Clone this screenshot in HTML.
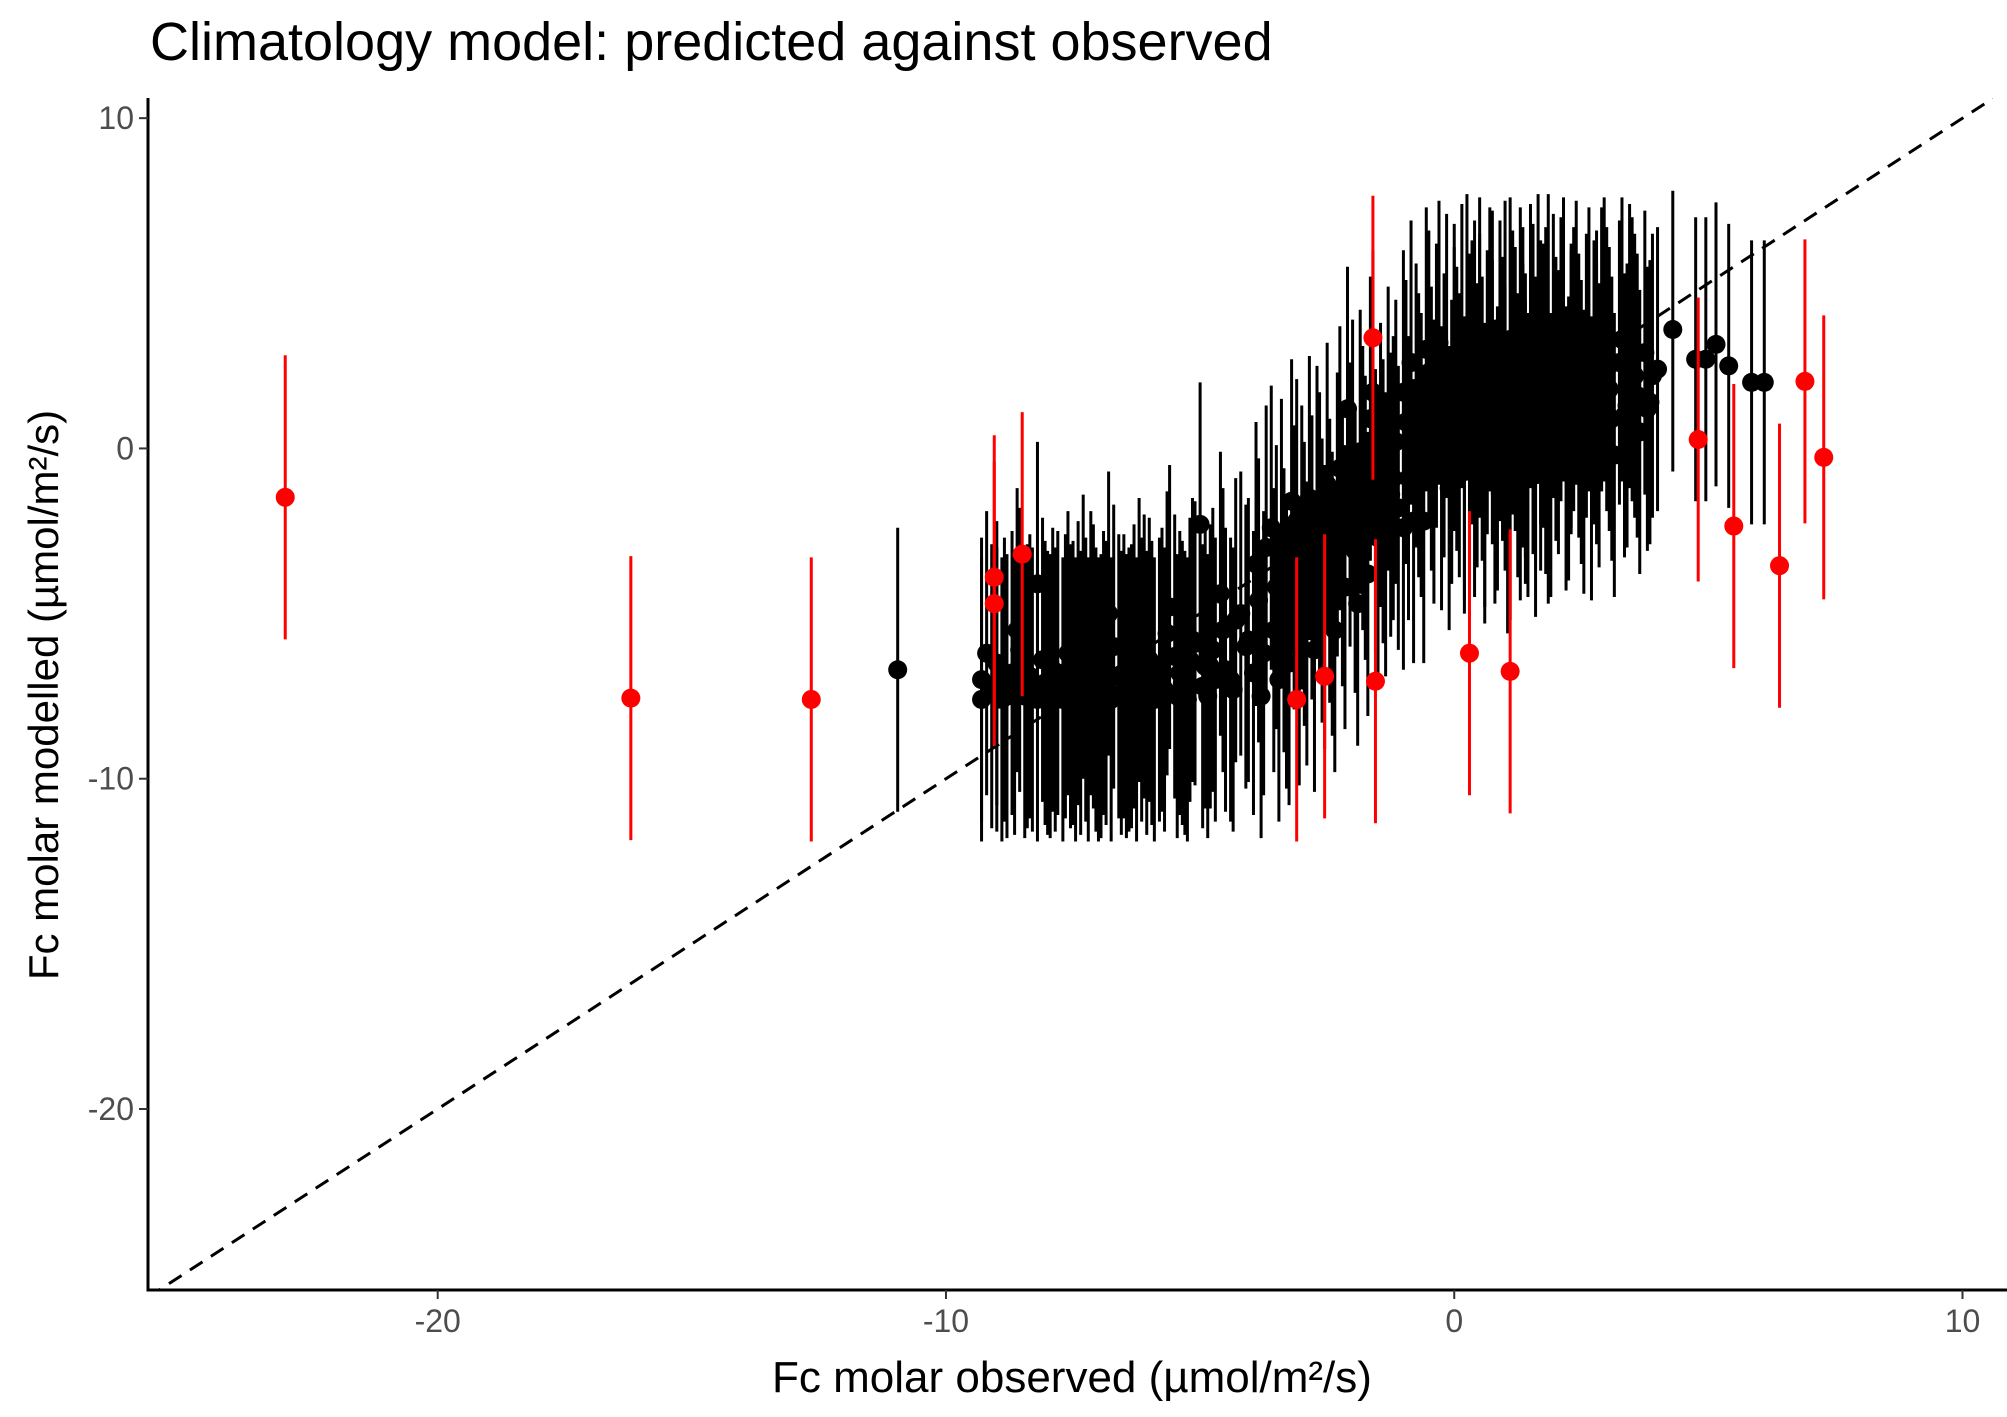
<!DOCTYPE html>
<html><head><meta charset="utf-8"><style>
html,body{margin:0;padding:0;background:#fff;}
svg{display:block;font-family:"Liberation Sans",Arial,sans-serif;}
</style></head><body>
<svg id="chart" width="2007" height="1417" viewBox="0 0 2007 1417" xmlns="http://www.w3.org/2000/svg">
<text x="150" y="60" font-size="54" fill="#000">Climatology model: predicted against observed</text>
<g id="plot"></g>
<text x="1072" y="1392" font-size="44" text-anchor="middle" fill="#000">Fc molar observed (µmol/m²/s)</text>
<text transform="translate(58,695) rotate(-90)" font-size="42" text-anchor="middle" fill="#000">Fc molar modelled (µmol/m²/s)</text>
</svg>
<script>
const blackX = [-10.95,-9.3,-9.3,-9.2,-9.0,-8.8,-8.6,-8.4,-8.2,-8.0,-7.8,-7.6,-7.5,-7.3,-7.1,-7.0,-6.8,-6.6,-6.4,-6.2,-6.0,-5.8,-5.6,-5.5,-5.3,-5.1,-5.0,-4.8,-4.6,-4.4,-4.3,-4.1,-3.9,-3.8,-3.6,-3.5,-3.3,-3.2,-3.0,-2.9,-2.7,-2.6,-2.4,-2.3,-2.1,-2.0,-1.9,-1.8,-1.6,-1.5,-1.4,-1.2,-1.0,-1.0,-0.8,-0.7,-0.6,-0.5,-0.4,-0.3,-0.2,-0.1,0.0,0.1,0.2,0.25,0.3,0.4,0.5,0.55,0.6,0.7,0.75,0.8,0.9,1.0,1.05,1.1,1.2,1.3,1.35,1.4,1.5,1.55,1.6,1.7,1.8,1.85,1.9,2.0,2.1,2.2,2.3,2.4,2.5,2.6,2.7,2.8,2.9,3.0,3.1,3.3,3.4,3.5,3.6,3.8,3.9,4.0,4.3,4.75,4.95,5.15,5.4,5.85,6.1,
-9.1,-9.0,-8.9,-8.85,-8.7,-8.65,-8.55,-8.45,-8.35,-8.3,-8.2,-8.1,-8.05,-7.95,-7.9,-7.85,-7.7,-7.65,-7.55,-7.45,-7.4,-7.35,-7.25,-7.2,-7.15,-7.05,-6.95,-6.9,-6.85,-6.75,-6.7,-6.55,-6.5,-6.45,-6.35,-6.3,-6.25,-6.15,-6.1,-6.05,-5.95,-5.9,-5.75,-5.7,-5.65,-5.45,-5.4,-5.35,-5.25,-5.2,-5.15,-4.95,-4.9,-4.85,-4.75,-4.7,-4.55,-4.5,-4.35,-4.2,
-4.05,-3.95,-3.85,-3.75,-3.7,-3.55,-3.45,-3.4,-3.35,-3.25,-3.15,-3.1,-3.05,-2.95,-2.85,-2.8,-2.75,-2.65,-2.55,-2.5,-2.45,-2.35,-2.25,-2.2,-2.15,-2.05,-1.95,-1.85,-1.75,-1.7,-1.65,-1.55,-1.45,-1.35,-1.3,-1.25,-1.15,-1.1,
-0.95,-0.9,-0.85,-0.75,-0.65,-0.55,-0.45,-0.35,-0.25,-0.15,-0.05,0.05,0.15,0.2,0.35,0.45,0.5,0.6,0.65,0.75,0.85,0.95,1.0,1.1,1.15,1.25,1.3,1.4,1.45,1.55,1.65,1.7,1.75,1.85,1.95,2.05,2.15,2.25,2.35,2.45,2.55,2.65,2.75,2.85,2.95,3.05,3.15,3.25,3.35,3.45,3.55,3.65,3.75,3.85,0.0,0.4,0.9,1.35,1.8,2.3,2.8,0.3,1.6];
const blackY = [-6.7,-7.0,-7.6,-6.2,-7.3,-7.5,-5.5,-7.2,-4.1,-7.4,-6.8,-6.2,-7.1,-5.7,-6.6,-7.6,-5.0,-6.9,-7.3,-5.8,-6.4,-7.0,-4.8,-6.3,-7.4,-5.9,-2.3,-6.6,-4.4,-7.0,-5.2,-6.0,-3.5,-7.5,-2.4,-4.2,-6.0,-1.6,-3.0,-5.3,-1.8,-4.0,-4.4,-2.0,1.2,-0.4,-4.7,-1.2,1.7,-2.7,-1.6,-0.9,-2.4,1.7,-2.2,0.4,-2.2,2.3,-0.4,3.2,1.0,-1.2,2.5,0.4,-0.7,3.4,1.6,-0.2,2.2,0.9,-1.0,3.0,1.4,-0.4,2.6,0.6,-1.3,3.3,1.8,-0.3,2.4,0.2,3.1,1.1,-0.8,2.0,0.5,3.4,-0.2,1.5,2.7,0.0,1.9,3.2,0.8,2.2,-0.3,1.4,3.0,2.4,0.9,3.3,1.3,2.7,1.6,1.2,2.2,2.4,3.6,2.7,2.7,3.15,2.5,2.0,2.0,
-7.2,-6.5,-7.6,-7.0,-6.8,-7.4,-6.1,-7.5,-6.9,-7.3,-7.6,-6.4,-7.1,-7.5,-6.7,-7.3,-7.6,-6.9,-7.2,-7.6,-6.5,-7.4,-7.0,-7.6,-6.2,-7.3,-7.5,-6.8,-7.1,-7.6,-6.0,-7.4,-6.9,-7.5,-7.2,-6.6,-7.6,-7.0,-6.3,-7.4,-7.1,-7.6,-6.7,-7.3,-5.6,-7.5,-6.8,-7.1,-7.6,-6.4,-5.8,-7.2,-6.6,-7.5,-6.1,-7.0,-5.5,-6.7,-7.3,-5.0,
-5.8,-6.8,-4.6,-6.2,-3.0,-5.5,-7.0,-2.8,-4.9,-6.5,-3.6,-2.2,-5.9,-4.1,-1.5,-3.3,-6.1,-2.6,-4.8,-1.1,-3.4,-5.5,-0.6,-2.9,-4.2,-1.7,-3.1,-0.1,-2.1,-3.8,0.9,-1.9,-0.5,-2.6,0.6,-1.4,0.2,-1.8,
0.8,-0.9,2.6,1.3,-0.2,3.0,0.6,1.9,-0.6,2.8,0.2,1.2,3.1,-0.3,2.0,0.7,3.3,-0.5,1.7,2.9,0.0,1.5,3.2,-0.9,2.3,0.4,3.0,1.0,-0.2,2.5,3.4,0.6,1.9,-0.4,2.8,1.1,3.3,0.3,2.4,1.6,-0.1,3.0,2.0,0.7,3.3,1.8,-0.2,2.6,1.0,3.1,2.2,0.5,2.9,1.4,1.8,2.6,2.1,1.3,2.4,1.7,2.3,0.1,0.9];
const redX = [-23.0,-16.2,-12.65,-9.05,-9.05,-8.5,-3.1,-2.55,-1.6,-1.55,0.3,1.1,4.8,5.5,6.4,6.9,7.27];
const redY = [-1.48,-7.56,-7.6,-3.9,-4.7,-3.2,-7.6,-6.9,3.35,-7.05,-6.2,-6.75,0.27,-2.35,-3.55,2.03,-0.27];
const errHalf = 4.3;
const xTicks = [-20,-10,0,10];
const yTicks = [10,0,-10,-20];

const X0 = 148, X1 = 1993, Y0 = 98, Y1 = 1290;
const xMin = -25.7, xMax = 10.6, yMin = -25.48, yMax = 10.61;
const sx = v => X0 + (v - xMin) / (xMax - xMin) * (X1 - X0);
const sy = v => Y1 - (v - yMin) / (yMax - yMin) * (Y1 - Y0);
const NS = "http://www.w3.org/2000/svg";
const g = document.getElementById('plot');
function mk(tag, attrs){ const e = document.createElementNS(NS, tag); for (const k in attrs) e.setAttribute(k, attrs[k]); g.appendChild(e); return e; }

const defs = mk('clipPath', {id:'clip'});
const cr = document.createElementNS(NS,'rect');
cr.setAttribute('x',X0);cr.setAttribute('y',Y0);cr.setAttribute('width',X1-X0);cr.setAttribute('height',Y1-Y0);
defs.appendChild(cr);

const dl = mk('line', {x1:sx(xMin), y1:sy(xMin), x2:sx(xMax), y2:sy(xMax), stroke:'#000', 'stroke-width':3, 'stroke-dasharray':'15 10', 'clip-path':'url(#clip)'});



function drawSeries(xs, ys, color, name){
  for (let i=0;i<xs.length;i++){
    const b = mk('line', {x1:sx(xs[i]), x2:sx(xs[i]), y1:sy(Math.min(ys[i]+errHalf, 7.8)), y2:sy(Math.max(ys[i]-errHalf, -12)), stroke:color, 'stroke-width':3});
    
    
  }
  for (let i=0;i<xs.length;i++){
    const c = mk('circle', {cx:sx(xs[i]), cy:sy(ys[i]), r:9.5, fill:color});
    
    
  }
}
drawSeries(blackX, blackY, '#000', 'black');
drawSeries(redX, redY, '#ff0000', 'red');

const ya = mk('line', {x1:X0, x2:X0, y1:Y0, y2:Y1+1.5, stroke:'#000', 'stroke-width':3});


const xa = mk('line', {x1:X0-1.5, x2:X1+14, y1:Y1, y2:Y1, stroke:'#000', 'stroke-width':3});



xTicks.forEach(t=>{
  const tk = mk('line', {x1:sx(t), x2:sx(t), y1:Y1, y2:Y1+9, stroke:'#333', 'stroke-width':2});
  
  
  const tl = mk('text', {x:sx(t), y:Y1+42, 'font-size':32, fill:'#4d4d4d', 'text-anchor':'middle'});
  tl.textContent = t;
  
  
});
yTicks.forEach(t=>{
  const tk = mk('line', {x1:X0-9, x2:X0, y1:sy(t), y2:sy(t), stroke:'#333', 'stroke-width':2});
  
  
  const tl = mk('text', {x:X0-14, y:sy(t)+11, 'font-size':32, fill:'#4d4d4d', 'text-anchor':'end'});
  tl.textContent = t;
  
  
});
</script>
</body></html>
